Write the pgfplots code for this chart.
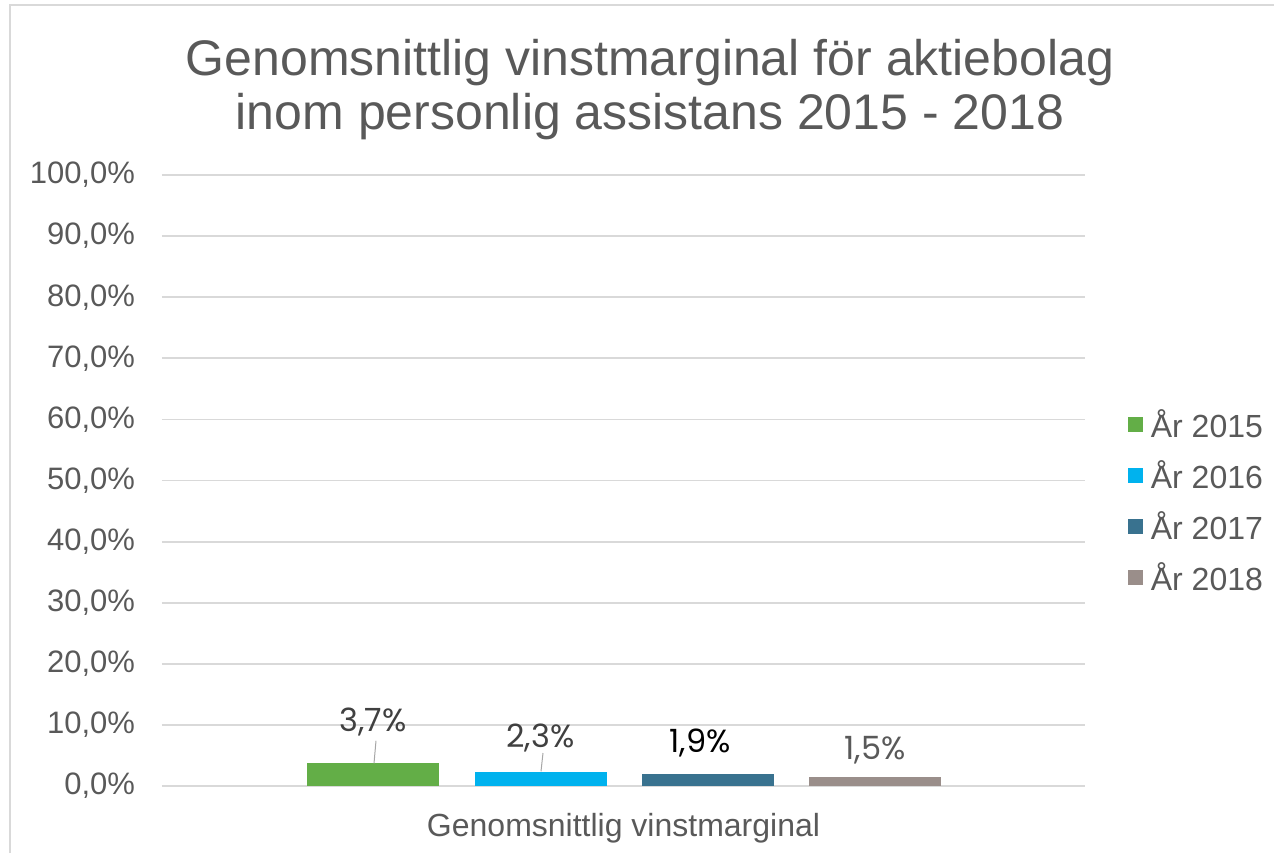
\documentclass[border=0pt]{standalone}
\usepackage{fontspec}
\setmainfont{Liberation Sans}
\newfontfamily\labelfont{Poppins}
\usepackage{pgfplots}
\pgfplotsset{compat=1.18}

\definecolor{txt}{HTML}{595959}
\definecolor{gridc}{HTML}{D9D9D9}
\definecolor{c15}{HTML}{63AE47}
\definecolor{c16}{HTML}{00B2EE}
\definecolor{c17}{HTML}{39728F}
\definecolor{c18}{HTML}{9A8E8A}

\begin{document}
\begin{tikzpicture}
% page frame (1 px of the reference = 0.5pt)
\path[use as bounding box] (0,0) rectangle (637pt,426.5pt);
\draw[gridc, line width=1.2pt] (5pt,0) -- (5pt,424pt) -- (637pt,424pt);

\node[txt, font=\fontsize{25}{27}\selectfont, align=center, anchor=center]
  at (325pt,381.5pt) {Genomsnittlig vinstmarginal för aktiebolag\\inom personlig assistans 2015 - 2018};

\begin{axis}[
    at={(81pt,33.5pt)}, anchor=south west,
    scale only axis,
    width=461.5pt, height=305.5pt,
    xmin=162, xmax=1085,
    ymin=0, ymax=100,
    ytick={0,10,...,100},
    xtick=\empty,
    ymajorgrids,
    grid style={gridc, line width=0.9pt},
    axis line style={draw=none},
    major tick length=0pt,
    /pgf/number format/assume math mode=true,
    yticklabel={\pgfmathprintnumber[fixed,fixed zerofill,precision=1,use comma]{\tick}\%},
    yticklabel style={txt, font=\fontsize{15.5}{15.5}\selectfont, xshift=-10pt},
    xlabel={Genomsnittlig vinstmarginal},
    xlabel style={txt, font=\fontsize{16}{16}\selectfont, yshift=-10pt},
    ybar, bar shift=0pt, bar width=132,
    area legend,
    legend style={draw=none, fill=none, at={(1.046,0.466)}, anchor=west,
        font=\fontsize{16}{16}\selectfont, text=txt,
        row sep=6pt, inner xsep=0pt,
        /tikz/every odd column/.append style={column sep=2pt}},
    legend image code/.code={\fill[#1] (0pt,-3.75pt) rectangle (7.5pt,3.75pt);},
    legend cell align=left,
    nodes near coords={\pgfmathprintnumber[fixed,fixed zerofill,precision=1,use comma]{\pgfplotspointmeta}\%},
    nodes near coords style={font=\labelfont\fontsize{16}{16}\selectfont, anchor=south},
]
\addplot[fill=c15, draw=none, nodes near coords style={text=black!75, yshift=10pt}]
    coordinates {(373,3.7)};
\addlegendentry{År 2015}
\addplot[fill=c16, draw=none, nodes near coords style={text=black!75, yshift=6.5pt}]
    coordinates {(540.5,2.3)};
\addlegendentry{År 2016}
\addplot[fill=c17, draw=none, nodes near coords style={text=black, xshift=-4pt, yshift=5pt}]
    coordinates {(708,1.9)};
\addlegendentry{År 2017}
\addplot[fill=c18, draw=none, nodes near coords style={text=txt, yshift=3pt}]
    coordinates {(875,1.5)};
\addlegendentry{År 2018}
% leader lines from the first two labels
\draw[gray!70, line width=0.5pt] (axis cs:374,3.7) -- (axis cs:376,7.4);
\draw[gray!70, line width=0.5pt] (axis cs:541,2.4) -- (axis cs:543,5.4);
\end{axis}
\end{tikzpicture}
\end{document}
